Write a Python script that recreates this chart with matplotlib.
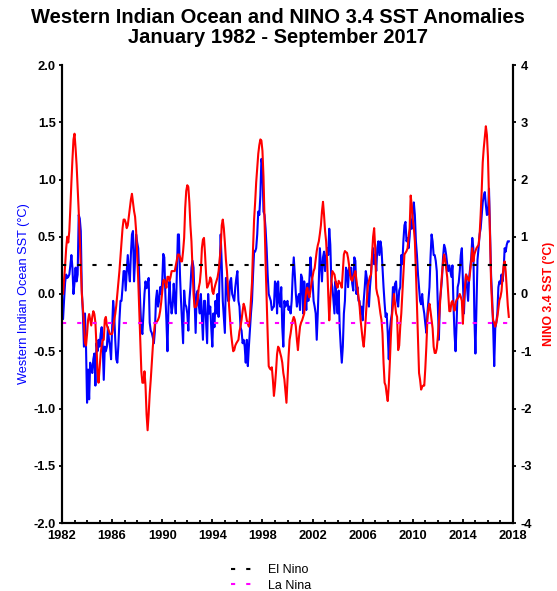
import numpy as np
import matplotlib.pyplot as plt
from matplotlib.lines import Line2D
from matplotlib.ticker import MultipleLocator, FormatStrFormatter

plt.rcParams['font.family'] = ['Liberation Sans', 'DejaVu Sans']
plt.rcParams['axes.unicode_minus'] = False

start_year = 1982
el_nino = 0.5     # threshold on the NINO 3.4 axis
la_nina = -0.5

# Western Indian Ocean SST anomaly (C), monthly, Jan 1982 - Sep 2017
wio = [
    -0.2, -0.22, -0.05, 0.1, 0.17, 0.14, 0.15, 0.17, 0.25, 0.34, 0.23, 0.0,       # 1982
    0.1, 0.23, 0.11, 0.17, 0.69, 0.66, 0.55, 0.03, -0.17, -0.46, -0.17, -0.46,     # 1983
    -0.95, -0.66, -0.92, -0.6, -0.65, -0.69, -0.57, -0.52, -0.8, -0.43, -0.5, -0.4,
    -0.46, -0.35, -0.29, -0.46, -0.75, -0.46, -0.5, -0.46, -0.29, -0.4, -0.46, -0.57,
    -0.3, -0.06, -0.17, -0.4, -0.57, -0.6, -0.45, -0.23, -0.06, -0.06, 0.06, 0.2,
    0.2, 0.03, 0.2, 0.34, 0.2, 0.11, 0.35, 0.52, 0.55, 0.11, 0.3, 0.52,            # 1987
    0.45, 0.4, 0.15, -0.1, -0.3, -0.35, -0.17, 0.0, 0.11, 0.05, 0.09, 0.14,
    -0.25, -0.32, -0.34, -0.38, -0.43, -0.32, -0.05, 0.03, -0.11, -0.06, 0.06, 0.0,
    0.11, 0.35, 0.32, 0.0, -0.23, -0.5, -0.11, 0.11, -0.06, -0.17, -0.1, 0.09,     # 1990
    -0.05, -0.17, 0.17, 0.52, 0.52, 0.17, -0.06, -0.25, -0.43, 0.03, -0.09, -0.11,
    -0.17, -0.32, -0.06, 0.06, 0.23, 0.29, 0.23, -0.06, -0.34, 0.0, 0.03, -0.1,
    -0.17, 0.0, -0.2, -0.4, -0.06, -0.06, -0.25, -0.43, 0.0, -0.17, -0.11, -0.3,
    -0.46, -0.17, -0.29, -0.06, -0.17, 0.0, -0.2, 0.2, 0.52, 0.26, -0.06, -0.2,
    -0.34, 0.14, 0.14, -0.06, -0.06, 0.11, 0.14, 0.0, -0.03, -0.06, 0.06, 0.14,    # 1995
    0.2, -0.06, -0.11, -0.29, -0.32, -0.43, -0.4, -0.46, -0.6, -0.4, -0.63, -0.46,
    -0.32, -0.17, -0.06, 0.17, 0.37, 0.37, 0.4, 0.52, 0.72, 0.69, 0.86, 1.18,
    1.12, 0.72, 0.69, 0.57, 0.4, 0.17, 0.0, -0.03, -0.06, -0.14, -0.12, -0.11,
    0.11, 0.09, -0.17, 0.11, -0.06, -0.11, 0.06, -0.29, -0.46, -0.06, -0.11, -0.08,
    -0.06, -0.14, -0.11, -0.17, -0.06, 0.17, 0.32, 0.17, 0.0, -0.11, -0.03, 0.0,   # 2000
    -0.14, 0.17, 0.14, -0.17, 0.11, 0.0, -0.14, 0.09, -0.06, 0.14, 0.32, 0.17,
    0.11, -0.06, -0.11, -0.17, -0.4, -0.17, 0.11, 0.4, 0.26, 0.11, 0.32, 0.37,
    0.2, 0.32, 0.4, 0.34, 0.57, 0.43, 0.11, 0.06, -0.06, -0.17, 0.11, -0.06,
    -0.17, 0.03, -0.29, -0.46, -0.6, -0.46, -0.17, -0.06, 0.23, 0.2, 0.06, 0.23,
    0.17, 0.23, 0.09, 0.03, 0.32, 0.29, 0.0, 0.06, -0.06, -0.06, -0.17, -0.11,     # 2005
    -0.23, -0.06, 0.06, 0.2, 0.14, -0.06, -0.11, 0.06, 0.17, 0.32, 0.4, 0.26,
    0.34, 0.2, 0.4, 0.46, 0.34, 0.46, 0.4, 0.23, 0.06, -0.08, -0.2, -0.17,
    -0.34, -0.57, -0.32, -0.23, -0.17, 0.06, 0.0, 0.09, 0.11, -0.06, -0.11, 0.03,
    0.06, 0.34, 0.26, 0.46, 0.6, 0.63, 0.46, 0.49, 0.4, 0.5, 0.65, 0.57,
    0.72, 0.8, 0.69, 0.46, 0.34, 0.17, 0.06, -0.06, -0.09, 0.0, -0.11, -0.17,      # 2010
    -0.26, -0.34, -0.17, -0.06, 0.06, 0.32, 0.52, 0.46, 0.34, 0.34, 0.29, 0.2,
    -0.1, -0.4, -0.06, 0.03, 0.14, 0.32, 0.43, 0.4, 0.34, 0.26, 0.2, 0.25,
    0.2, 0.15, 0.25, -0.1, -0.35, -0.5, -0.25, 0.06, 0.1, 0.2, 0.34, 0.4,
    0.11, -0.17, 0.06, 0.17, 0.06, -0.06, 0.14, 0.23, 0.32, 0.49, 0.4, -0.2,
    -0.52, -0.1, 0.3, 0.4, 0.52, 0.57, 0.69, 0.8, 0.86, 0.89, 0.78, 0.69,          # 2015
    0.7, 0.92, 0.55, 0.17, -0.03, -0.29, -0.63, -0.3, -0.25, -0.17, 0.06, 0.11,
    0.09, 0.17, 0.11, 0.2, 0.4, 0.37, 0.43, 0.46, 0.46,                            # 2017 (to Sep)
]

# NINO 3.4 SST anomaly (C), same months
nino34 = [
    0.1, 0.0, 0.25, 0.5, 0.8, 1.0, 0.9, 1.1, 1.5, 1.95, 2.35, 2.7,                 # 1982
    2.8, 2.55, 2.25, 1.85, 1.45, 0.95, 0.4, 0.0, -0.25, -0.5, -0.85, -0.9,
    -0.7, -0.45, -0.35, -0.45, -0.55, -0.4, -0.3, -0.35, -0.5, -0.9, -1.35, -1.55,
    -1.3, -1.05, -0.9, -0.8, -0.8, -0.45, -0.4, -0.55, -0.6, -0.65, -0.7, -0.7,
    -0.7, -0.6, -0.45, -0.35, -0.2, 0.0, 0.2, 0.4, 0.65, 0.9, 1.15, 1.3,
    1.3, 1.25, 1.15, 1.2, 1.35, 1.5, 1.65, 1.75, 1.6, 1.45, 1.35, 1.1,             # 1987
    0.7, 0.25, -0.3, -0.8, -1.35, -1.55, -1.55, -1.35, -1.6, -2.1, -2.38, -2.1,
    -1.75, -1.5, -1.2, -0.92, -0.7, -0.52, -0.5, -0.48, -0.45, -0.4, -0.3, -0.15,
    0.05, 0.23, 0.25, 0.2, 0.11, 0.3, 0.3, 0.23, 0.3, 0.4, 0.4, 0.4,               # 1990
    0.4, 0.5, 0.6, 0.69, 0.69, 0.65, 0.57, 0.57, 0.75, 0.98, 1.5, 1.8,
    1.9, 1.87, 1.6, 1.2, 0.92, 0.45, 0.0, -0.23, -0.23, -0.2, -0.1, 0.11,
    0.2, 0.4, 0.8, 0.95, 0.98, 0.7, 0.35, 0.11, 0.15, 0.2, 0.29, 0.25,
    0.05, 0.0, 0.1, 0.17, 0.23, 0.29, 0.4, 0.6, 0.8, 1.2, 1.3, 1.15,
    0.9, 0.6, 0.4, 0.1, -0.2, -0.46, -0.7, -0.86, -1.0, -0.98, -0.9, -0.86,        # 1995
    -0.83, -0.8, -0.65, -0.57, -0.45, -0.3, -0.17, -0.23, -0.34, -0.46, -0.52, -0.57,
    -0.4, -0.1, 0.2, 0.8, 1.3, 1.6, 1.95, 2.2, 2.45, 2.6, 2.7, 2.68,
    2.5, 2.05, 1.3, 0.55, -0.11, -0.7, -1.26, -1.3, -1.32, -1.28, -1.5, -1.78,
    -1.6, -1.35, -1.05, -0.92, -0.95, -1.03, -1.1, -1.2, -1.38, -1.49, -1.7, -1.9,
    -1.5, -1.1, -0.8, -0.69, -0.55, -0.46, -0.4, -0.45, -0.57, -0.8, -0.98, -0.75, # 2000
    -0.57, -0.5, -0.46, -0.4, -0.34, -0.1, 0.06, 0.11, 0.0, -0.06, 0.06, 0.2,
    0.3, 0.4, 0.45, 0.6, 0.75, 0.85, 0.92, 1.05, 1.2, 1.44, 1.61, 1.38,
    1.1, 0.92, 0.57, 0.0, -0.46, -0.1, 0.2, 0.4, 0.37, 0.34, 0.23, 0.15,
    0.11, 0.23, 0.2, 0.17, 0.11, 0.4, 0.69, 0.75, 0.73, 0.72, 0.63, 0.5,
    0.34, 0.25, 0.23, 0.3, 0.34, 0.4, 0.25, 0.11, -0.05, -0.2, -0.45, -0.63,       # 2005
    -0.8, -0.92, -0.7, -0.4, -0.11, 0.15, 0.23, 0.3, 0.34, 0.69, 1.0, 1.15,
    0.8, 0.1, 0.0, -0.06, -0.2, -0.34, -0.45, -0.69, -1.2, -1.55, -1.6, -1.75,
    -1.87, -1.6, -1.2, -0.75, -0.4, -0.2, 0.0, -0.17, -0.34, -0.4, -0.98, -0.9,
    -0.57, -0.34, 0.0, 0.34, 0.69, 0.72, 0.75, 0.8, 1.0, 1.15, 1.72, 1.55,
    1.3, 1.15, 0.92, 0.4, -0.2, -0.8, -1.38, -1.5, -1.67, -1.62, -1.6, -1.6,       # 2010
    -1.3, -0.92, -0.45, -0.25, -0.17, -0.3, -0.45, -0.6, -0.92, -1.03, -1.03, -0.95,
    -0.75, -0.5, -0.2, 0.1, 0.35, 0.55, 0.69, 0.6, 0.45, 0.29, 0.0, -0.3,
    -0.3, -0.15, -0.12, -0.2, -0.29, -0.15, -0.1, -0.08, -0.05, 0.0, -0.05, -0.12,
    -0.52, -0.11, 0.1, 0.34, 0.3, 0.25, 0.23, 0.4, 0.57, 0.8, 0.57, 0.69,
    0.75, 0.8, 0.83, 0.86, 1.03, 1.38, 1.8, 2.3, 2.55, 2.75, 2.93, 2.78,           # 2015
    2.4, 1.7, 1.0, 0.2, -0.2, -0.46, -0.5, -0.57, -0.5, -0.4, -0.25, -0.11,
    -0.05, 0.05, 0.3, 0.5, 0.57, 0.4, 0.1, -0.2, -0.4,                             # 2017 (to Sep)
]

x_ticks = list(range(1982, 2019, 4))
title = 'Western Indian Ocean and NINO 3.4 SST Anomalies\nJanuary 1982 - September 2017'

t = start_year + np.arange(len(wio)) / 12.0

##################### plotting #####################
W, H = 557, 591
fig = plt.figure(figsize=(W / 100, H / 100), dpi=100)
ax = fig.add_axes([62 / W, 1 - 523 / H, (513 - 62) / W, (523 - 65) / H])
ax2 = ax.twinx()

ax.plot(t, wio, color='#0000ff', lw=1.5)
ax2.plot(t, nino34, color='#ff0000', lw=1.5)

# El Nino / La Nina thresholds
ax2.plot([t[0], t[-1]], [el_nino, el_nino], color='black', lw=1.5, dashes=(2, 5.3))
ax2.plot([t[0], t[-1]], [la_nina, la_nina], color='#ff00ff', lw=1.5, dashes=(2, 5.3))

ax.set_xlim(1982, 2018)
ax.set_ylim(-2, 2)
ax2.set_ylim(-4, 4)

ax.set_xticks(x_ticks)
ax.xaxis.set_minor_locator(MultipleLocator(1))
ax.yaxis.set_major_locator(MultipleLocator(0.5))
ax.yaxis.set_major_formatter(FormatStrFormatter('%.1f'))
ax2.yaxis.set_major_locator(MultipleLocator(1))

for a in (ax, ax2):
    a.spines['top'].set_visible(False)
    for s in ('left', 'right', 'bottom'):
        a.spines[s].set_linewidth(1.5)

ax.tick_params(axis='x', which='major', direction='in', length=3, width=1.3, pad=5,
               labelsize=9.3)
ax.tick_params(axis='x', which='minor', direction='in', length=2.5, width=1.3)
ax.tick_params(axis='y', direction='out', length=2.5, width=1.3, pad=2, labelsize=9.3)
ax2.tick_params(axis='y', direction='out', length=2.5, width=1.3, pad=3, labelsize=9.3)
for lab in ax.get_xticklabels() + ax.get_yticklabels() + ax2.get_yticklabels():
    lab.set_fontweight('bold')

ax.set_ylabel('Western Indian Ocean SST (°C)', color='#0000ff', fontsize=9.2)
ax.yaxis.set_label_coords(-0.072, 0.5)
ax2.set_ylabel('NINO 3.4 SST (°C)', color='#ff0000', fontsize=8.8, fontweight='bold')
ax2.yaxis.set_label_coords(1.066, 0.5)

fig.text(278 / W, 1 - 8 / H, title, ha='center', va='top', fontsize=14.5,
         fontweight='bold', linespacing=1.05)

handles = [Line2D([], [], color='black', lw=1.5, dashes=(2, 5.3)),
           Line2D([], [], color='#ff00ff', lw=1.5, dashes=(2, 5.3))]
fig.legend(handles, ['El Nino', 'La Nina'], loc='upper left',
           bbox_to_anchor=(231 / W, 1 - 564 / H), frameon=False, fontsize=9,
           handlelength=1.6, handletextpad=1.4, labelspacing=0.3,
           borderpad=0, borderaxespad=0)

fig.savefig('out.png', dpi=100)
